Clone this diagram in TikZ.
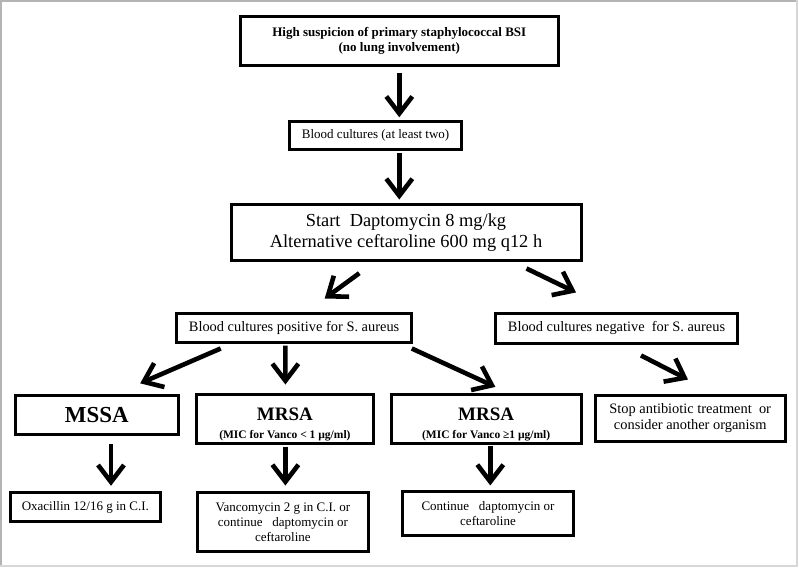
\documentclass[tikz,border=0pt]{standalone}
\usepackage{fontspec}
\setmainfont{Liberation Serif}
\usetikzlibrary{arrows.meta}
\begin{document}
\begin{tikzpicture}[x=1pt,y=-1pt,
  box/.style={draw,line width=3pt,inner sep=0pt,align=center,anchor=center},
  arr/.style={line width=4.6pt,-{Straight Barb[length=17pt,width=26pt]}},
  nt/.style={font=\fontsize{13}{15}\selectfont},
  mt/.style={font=\fontsize{14.4}{16.3}\selectfont},
  mr/.style={font=\fontsize{11.5}{18}\selectfont\bfseries}]
\useasboundingbox (0,0) rectangle (799,568);
\fill[white] (0,0) rectangle (799,568);
\draw[line width=1.5pt,color={rgb,255:red,180;green,180;blue,180}] (0.75,567) -- (0.75,0.75) -- (798,0.75);
\draw[line width=2pt,color={rgb,255:red,215;green,215;blue,215}] (797,0) -- (797,566) -- (0,566);
% boxes
\node[box,minimum width=317.4,minimum height=48.9,font=\fontsize{13}{15.2}\selectfont\bfseries] (b1) at (399.3,40.75)
  {High suspicion of primary staphylococcal BSI\\(no lung involvement)};
\node[box,nt,minimum width=172.3,minimum height=27.9] (b2) at (375.6,135.3) {Blood cultures (at least two)};
\node[box,minimum width=350,minimum height=56.2,font=\fontsize{18.4}{20.5}\selectfont] (b3) at (406,232.8)
  {Start~ Daptomycin 8 mg/kg\\Alternative ceftaroline 600 mg q12 h};
\node[box,mt,minimum width=234.4,minimum height=29] (pos) at (294.1,327.9) {Blood cultures positive for S. aureus};
\node[box,mt,minimum width=242.1,minimum height=30.1] (neg) at (616.5,328.4) {Blood cultures negative~ for S. aureus};
\node[box,minimum width=163.1,minimum height=39.8,font=\fontsize{22.9}{24}\selectfont\bfseries] (mssa) at (96.8,414.9) {MSSA};
\node[box,mr,minimum width=177.4,minimum height=49.8] (mrsa1) at (284.9,418.9)
  {\rule{0pt}{23pt}{\fontsize{19}{19}\selectfont MRSA}\\(MIC for Vanco < 1 µg/ml)};
\node[box,mr,minimum width=189.6,minimum height=49.8] (mrsa2) at (486.2,418.9)
  {\rule{0pt}{23pt}{\fontsize{19}{19}\selectfont MRSA}\\(MIC for Vanco ≥1 µg/ml)};
\node[box,mt,minimum width=189.7,minimum height=46.3] (stop) at (690.2,418.2)
  {Stop antibiotic treatment~ or\\consider another organism};
\node[box,nt,minimum width=150.3,minimum height=28.9] (oxa) at (85.3,507.2) {Oxacillin 12/16 g in C.I.};
\node[box,nt,minimum width=170.2,minimum height=58.6] (vanco) at (282.9,522.1)
  {Vancomycin 2 g in C.I. or\\continue~~ daptomycin or\\ceftaroline};
\node[box,nt,minimum width=170.8,minimum height=43.5] (cont) at (488,513.7)
  {Continue~~ daptomycin or\\ceftaroline};
% arrows
\draw[arr] ([yshift=-6.5pt]b1.south) -- ([yshift=2.6pt]b1.south |- b2.north);
\draw[arr] ([yshift=-2.7pt]b1.south |- b2.south) -- ([yshift=3.7pt]b1.south |- b3.north);
\draw[arr] ([xshift=-46.7pt,yshift=-10.8pt]b3.south) -- ([xshift=30.6pt,yshift=13.4pt]pos.north);
\draw[arr] ([xshift=120.5pt,yshift=-6.1pt]b3.south) -- ([xshift=-40.5pt,yshift=19.4pt]neg.north);
\draw[arr] ([xshift=-73.4pt,yshift=-4.6pt]pos.south) -- ([xshift=43.4pt,yshift=10.2pt]mssa.north);
\draw[arr] ([xshift=-8.7pt,yshift=-1.6pt]pos.south) -- ([xshift=0.5pt,yshift=8pt]mrsa1.north);
\draw[arr] ([xshift=117.7pt,yshift=-4.6pt]pos.south) -- ([xshift=9.2pt,yshift=5.6pt]mrsa2.north);
\draw[arr] ([xshift=24.5pt,yshift=-10.5pt]neg.south) -- ([xshift=-2.2pt,yshift=14pt]stop.north);
\draw[arr] ([xshift=14.2pt,yshift=-8pt]mssa.south) -- ([xshift=25.7pt,yshift=5.5pt]oxa.north);
\draw[arr] ([xshift=0.5pt,yshift=-1.2pt]mrsa1.south) -- ([xshift=2.5pt,yshift=5.8pt]vanco.north);
\draw[arr] ([xshift=4.1pt,yshift=-0.2pt]mrsa2.south) -- ([xshift=2.3pt,yshift=5pt]cont.north);
\end{tikzpicture}
\end{document}
